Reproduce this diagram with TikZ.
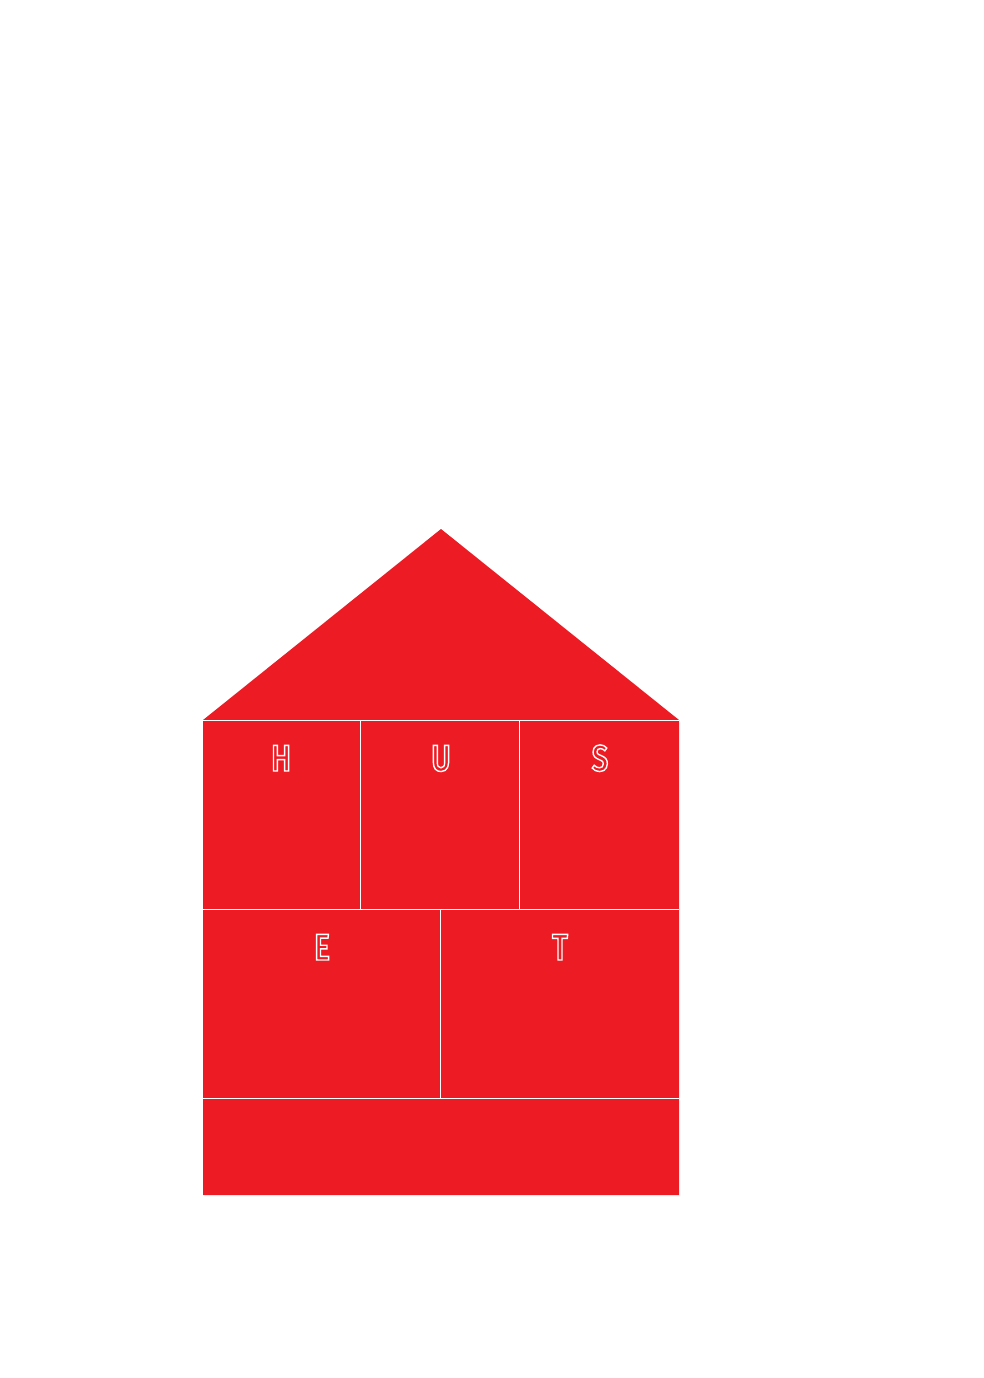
\documentclass[tikz,border=0pt]{standalone}
\usepackage{fontspec}
\setmainfont{Fira Sans}
\newfontfamily\housefont[FakeStretch=0.8]{Fira Sans Medium}
\definecolor{housered}{HTML}{ED1C24}
\newcommand{\outl}[1]{\special{pdf:literal direct q 1 Tr 1.4 w 1 1 1 RG}#1\special{pdf:literal direct Q}}
\begin{document}
\begin{tikzpicture}[x=1pt,y=-1pt,
  divider/.style={draw=white,line width=1pt},
  letter/.style={font=\housefont\fontsize{37}{40}\selectfont,inner sep=0pt,anchor=base,text=housered}]
\useasboundingbox (0,0) rectangle (984,1378);
\fill[housered] (203,720) -- (441,529) -- (679,720) -- (679,1195) -- (203,1195) -- cycle;
\coordinate (l1) at (203,720);  \coordinate (r1) at (679,720);
\coordinate (l2) at (203,909);  \coordinate (r2) at (679,909);
\coordinate (l3) at (203,1098); \coordinate (r3) at (679,1098);
\draw[divider] (l1) -- (r1);
\draw[divider] (l2) -- (r2);
\draw[divider] (l3) -- (r3);
\draw[divider] (360,720) -- (360,909);
\draw[divider] (519,720) -- (519,909);
\draw[divider] (440,909) -- (440,1098);
\node[letter] (h) at (281,771) {\outl{H}};
\node[letter] (u) at (441,771) {\outl{U}};
\node[letter] (s) at (600,771) {\outl{S}};
\node[letter] (e) at (322,960) {\outl{E}};
\node[letter] (t) at (560,960) {\outl{T}};
\end{tikzpicture}
\end{document}
